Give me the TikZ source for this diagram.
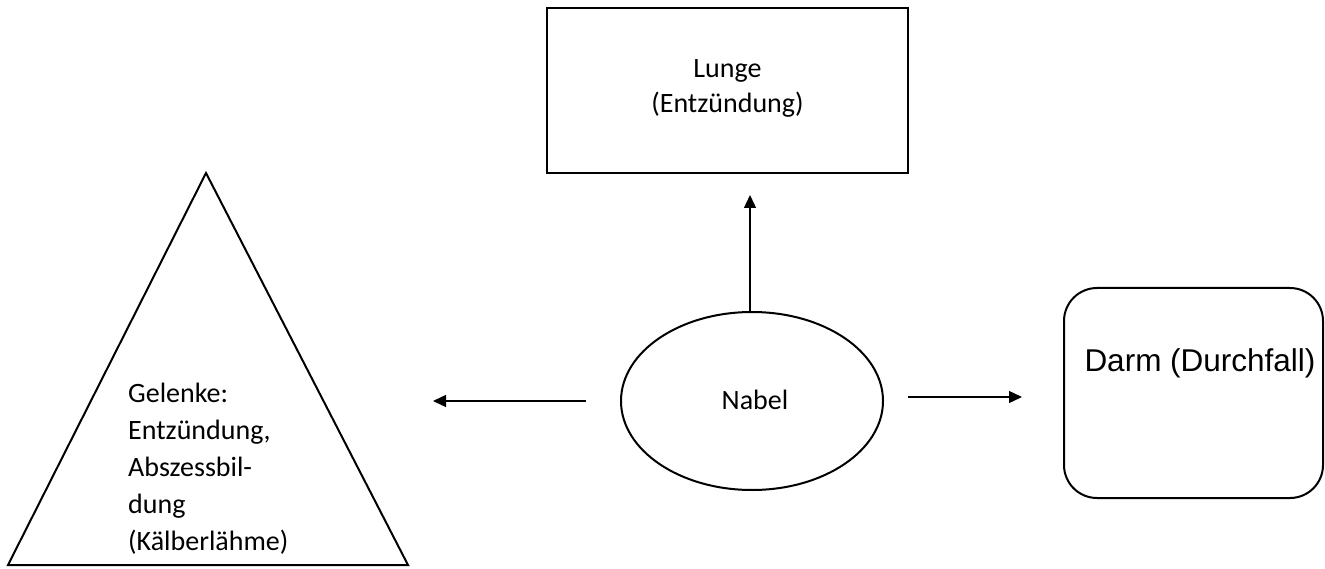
\documentclass[tikz,border=0pt]{standalone}
\usepackage{fontspec}
\setmainfont{Carlito}
\newfontfamily\arialf{Liberation Sans}
\usetikzlibrary{arrows.meta,shapes.geometric}
\begin{document}
\begin{tikzpicture}[x=1pt,y=-1pt,
  txt/.style={font=\fontsize{28}{36}\selectfont, inner sep=0pt},
  conn/.style={line width=1.3pt, -{Triangle[length=13pt,width=12pt]}},
  shp/.style={draw, line width=2pt}]
\useasboundingbox (0,0) rectangle (1325,569);
% Lunge rectangle
\node[shp, line width=2.6pt, rectangle, minimum width=361pt, minimum height=165pt] (lunge) at (727.5,90.5) {};
\node[txt, align=center, font=\fontsize{28}{35}\selectfont] (lungetxt) at (727.5,88) {Lunge\\(Entzündung)};
% Triangle
\coordinate (tA) at (206,173);
\coordinate (tB) at (8,565);
\coordinate (tC) at (408,565);
\draw[shp, line join=miter] (tA) -- (tB) -- (tC) -- cycle;
\node[txt, align=left, anchor=north west, font=\fontsize{28}{37}\selectfont] (gelenke) at (128,383) {Gelenke:\\Entzündung,\\Abszessbil-\\dung\\(Kälberlähme)};
% Nabel ellipse
\node[shp, ellipse, minimum width=262pt, minimum height=178pt, inner sep=0pt] (nabel) at (752,401) {};
\node[txt] (nabeltxt) at (755,400) {Nabel};
% Darm rounded rect
\node[shp, rectangle, rounded corners=33pt, minimum width=259pt, minimum height=210pt] (darm) at (1193.5,393) {};
\node[inner sep=0pt, font=\arialf\fontsize{31.5}{36}\selectfont] (darmtxt) at (1200,363) {Darm (Durchfall)};
% connectors
\coordinate (upend) at (750,195);
\coordinate (lstart) at (586,401);
\coordinate (lend) at (433,401);
\coordinate (rstart) at (908,397);
\coordinate (rend) at (1022,397);
\draw[conn] (nabel.north -| upend) -- (upend);
\draw[conn] (lstart) -- (lend);
\draw[conn] (rstart) -- (rend);
\end{tikzpicture}
\end{document}
